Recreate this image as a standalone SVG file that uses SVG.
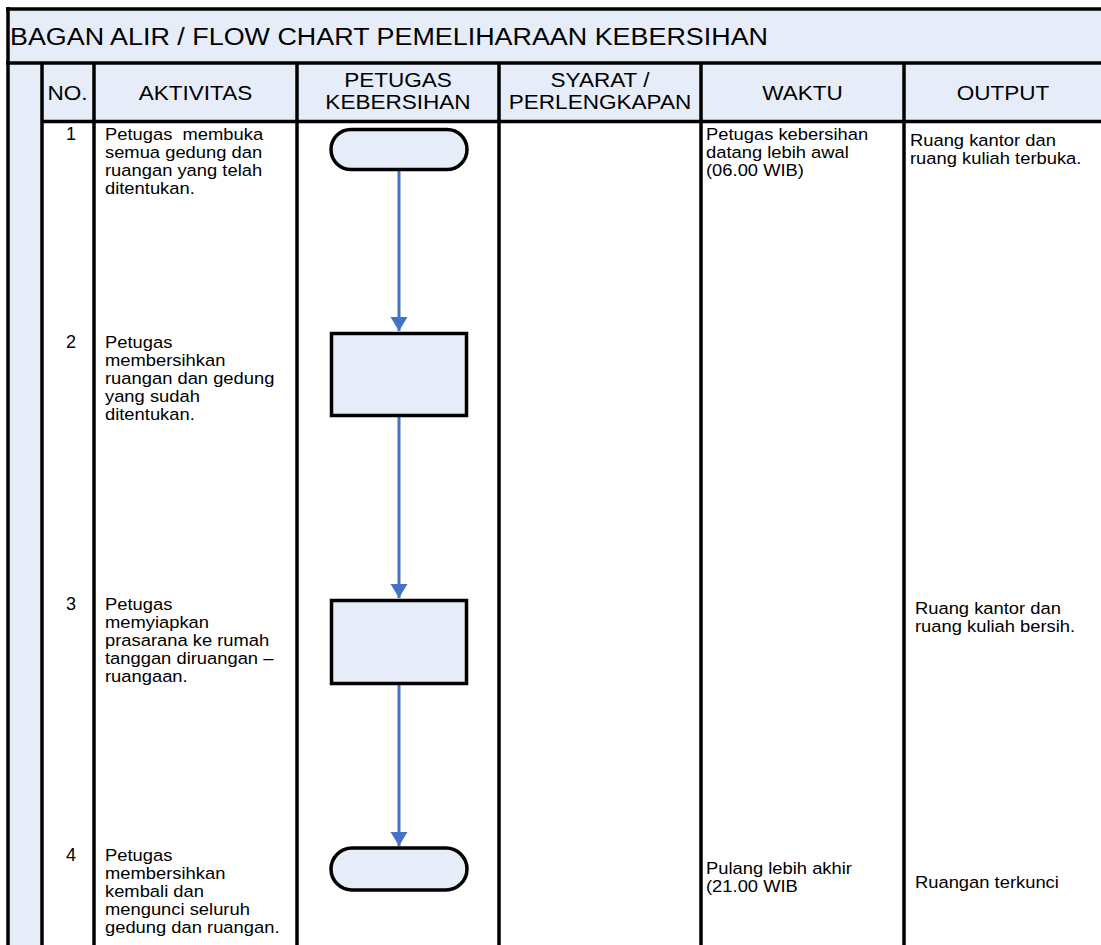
<svg xmlns="http://www.w3.org/2000/svg" width="1101" height="945" viewBox="0 0 1101 945">
<defs>
<style>
.fill{fill:#E7EDF8}
.grid{stroke:#000;stroke-width:3.5;fill:none}
.shape{fill:#E7EDF8;stroke:#000;stroke-width:3.5}
.conn{stroke:#4472C4;stroke-width:3;fill:none}
.t{font-family:"Liberation Sans",Arial,sans-serif;fill:#000}
.title{font-size:23px}
.hd{font-size:20.5px;text-anchor:middle}
.bd{font-size:17px}
.num{font-size:18px;text-anchor:middle}
</style>
<marker id="ah" markerUnits="userSpaceOnUse" markerWidth="18" markerHeight="18" refX="14" refY="8.5" orient="auto">
<path d="M0,0 L14,8.5 L0,17 z" fill="#4472C4"/>
</marker>
</defs>
<rect width="1101" height="945" fill="#fff"/>
<g id="table">
<rect class="fill" x="8" y="9" width="1093" height="54"/>
<rect class="fill" x="8" y="63" width="1093" height="58.5"/>
<rect class="fill" x="8" y="63" width="34" height="882"/>
<line class="grid" x1="6" y1="9" x2="1101" y2="9"/>
<line class="grid" x1="8" y1="7" x2="8" y2="945"/>
<line class="grid" x1="6" y1="63" x2="1101" y2="63"/>
<line class="grid" x1="42" y1="121.5" x2="1101" y2="121.5"/>
<line class="grid" x1="42" y1="63" x2="42" y2="945"/>
<line class="grid" x1="94" y1="63" x2="94" y2="945"/>
<line class="grid" x1="297" y1="63" x2="297" y2="945"/>
<line class="grid" x1="499" y1="63" x2="499" y2="945"/>
<line class="grid" x1="701" y1="63" x2="701" y2="945"/>
<line class="grid" x1="904" y1="63" x2="904" y2="945"/>
<text class="t title" x="10" y="45" textLength="758" lengthAdjust="spacingAndGlyphs">BAGAN ALIR / FLOW CHART PEMELIHARAAN KEBERSIHAN</text>
<text class="t hd" transform="matrix(1.1 0 0 1 -6.75 0)" x="67.5" y="100">NO.</text>
<text class="t hd" transform="matrix(1.1 0 0 1 -19.55 0)" x="195.5" y="100">AKTIVITAS</text>
<text class="t hd" transform="matrix(1.1 0 0 1 -39.8 0)" x="398" y="87"><tspan x="398" y="87">PETUGAS</tspan><tspan x="398" y="109">KEBERSIHAN</tspan></text>
<text class="t hd" transform="matrix(1.1 0 0 1 -60 0)" x="600" y="87"><tspan x="600" y="87">SYARAT /</tspan><tspan x="600" y="109">PERLENGKAPAN</tspan></text>
<text class="t hd" transform="matrix(1.1 0 0 1 -80.25 0)" x="802.5" y="100">WAKTU</text>
<text class="t hd" transform="matrix(1.1 0 0 1 -100.3 0)" x="1003" y="100">OUTPUT</text>
</g>
<g id="row1">
<text class="t num" x="71" y="140">1</text>
<text class="t bd" transform="matrix(1.08 0 0 1 -8.4 0)" x="105" y="140"><tspan x="105" y="140" xml:space="preserve">Petugas  membuka</tspan><tspan x="105" y="158">semua gedung dan</tspan><tspan x="105" y="176">ruangan yang telah</tspan><tspan x="105" y="194">ditentukan.</tspan></text>
<text class="t bd" transform="matrix(1.08 0 0 1 -56.48 0)" x="706" y="140"><tspan x="706" y="140">Petugas kebersihan</tspan><tspan x="706" y="158">datang lebih awal</tspan><tspan x="706" y="176">(06.00 WIB)</tspan></text>
<text class="t bd" transform="matrix(1.08 0 0 1 -72.8 0)" x="910" y="146"><tspan x="910" y="146">Ruang kantor dan</tspan><tspan x="910" y="164">ruang kuliah terbuka.</tspan></text>
</g>
<g id="row2">
<text class="t num" x="71" y="348">2</text>
<text class="t bd" transform="matrix(1.08 0 0 1 -8.4 0)" x="105" y="348"><tspan x="105" y="348">Petugas</tspan><tspan x="105" y="366">membersihkan</tspan><tspan x="105" y="384">ruangan dan gedung</tspan><tspan x="105" y="402">yang sudah</tspan><tspan x="105" y="420">ditentukan.</tspan></text>
</g>
<g id="row3">
<text class="t num" x="71" y="610">3</text>
<text class="t bd" transform="matrix(1.08 0 0 1 -8.4 0)" x="105" y="610"><tspan x="105" y="610">Petugas</tspan><tspan x="105" y="628">memyiapkan</tspan><tspan x="105" y="646">prasarana ke rumah</tspan><tspan x="105" y="664">tanggan diruangan –</tspan><tspan x="105" y="682">ruangaan.</tspan></text>
<text class="t bd" transform="matrix(1.08 0 0 1 -73.2 0)" x="915" y="614"><tspan x="915" y="614">Ruang kantor dan</tspan><tspan x="915" y="632">ruang kuliah bersih.</tspan></text>
</g>
<g id="row4">
<text class="t num" x="71" y="861">4</text>
<text class="t bd" transform="matrix(1.08 0 0 1 -8.4 0)" x="105" y="861"><tspan x="105" y="861">Petugas</tspan><tspan x="105" y="879">membersihkan</tspan><tspan x="105" y="897">kembali dan</tspan><tspan x="105" y="915">mengunci seluruh</tspan><tspan x="105" y="933">gedung dan ruangan.</tspan></text>
<text class="t bd" transform="matrix(1.08 0 0 1 -56.48 0)" x="706" y="874"><tspan x="706" y="874">Pulang lebih akhir</tspan><tspan x="706" y="892">(21.00 WIB</tspan></text>
<text class="t bd" transform="matrix(1.08 0 0 1 -73.2 0)" x="915" y="888">Ruangan terkunci</text>
</g>
<g id="connectors">
<line class="conn" x1="399" y1="170" x2="399" y2="331" marker-end="url(#ah)"/>
<line class="conn" x1="399" y1="417" x2="399" y2="598" marker-end="url(#ah)"/>
<line class="conn" x1="399" y1="685" x2="399" y2="846" marker-end="url(#ah)"/>
</g>
<g id="n1"><rect class="shape" x="331" y="129.5" width="136" height="40" rx="20"/></g>
<g id="n2"><rect class="shape" x="331.5" y="333.5" width="135" height="82"/></g>
<g id="n3"><rect class="shape" x="331.5" y="600.5" width="135" height="83"/></g>
<g id="n4"><rect class="shape" x="331" y="848" width="136" height="42" rx="21"/></g>
</svg>
